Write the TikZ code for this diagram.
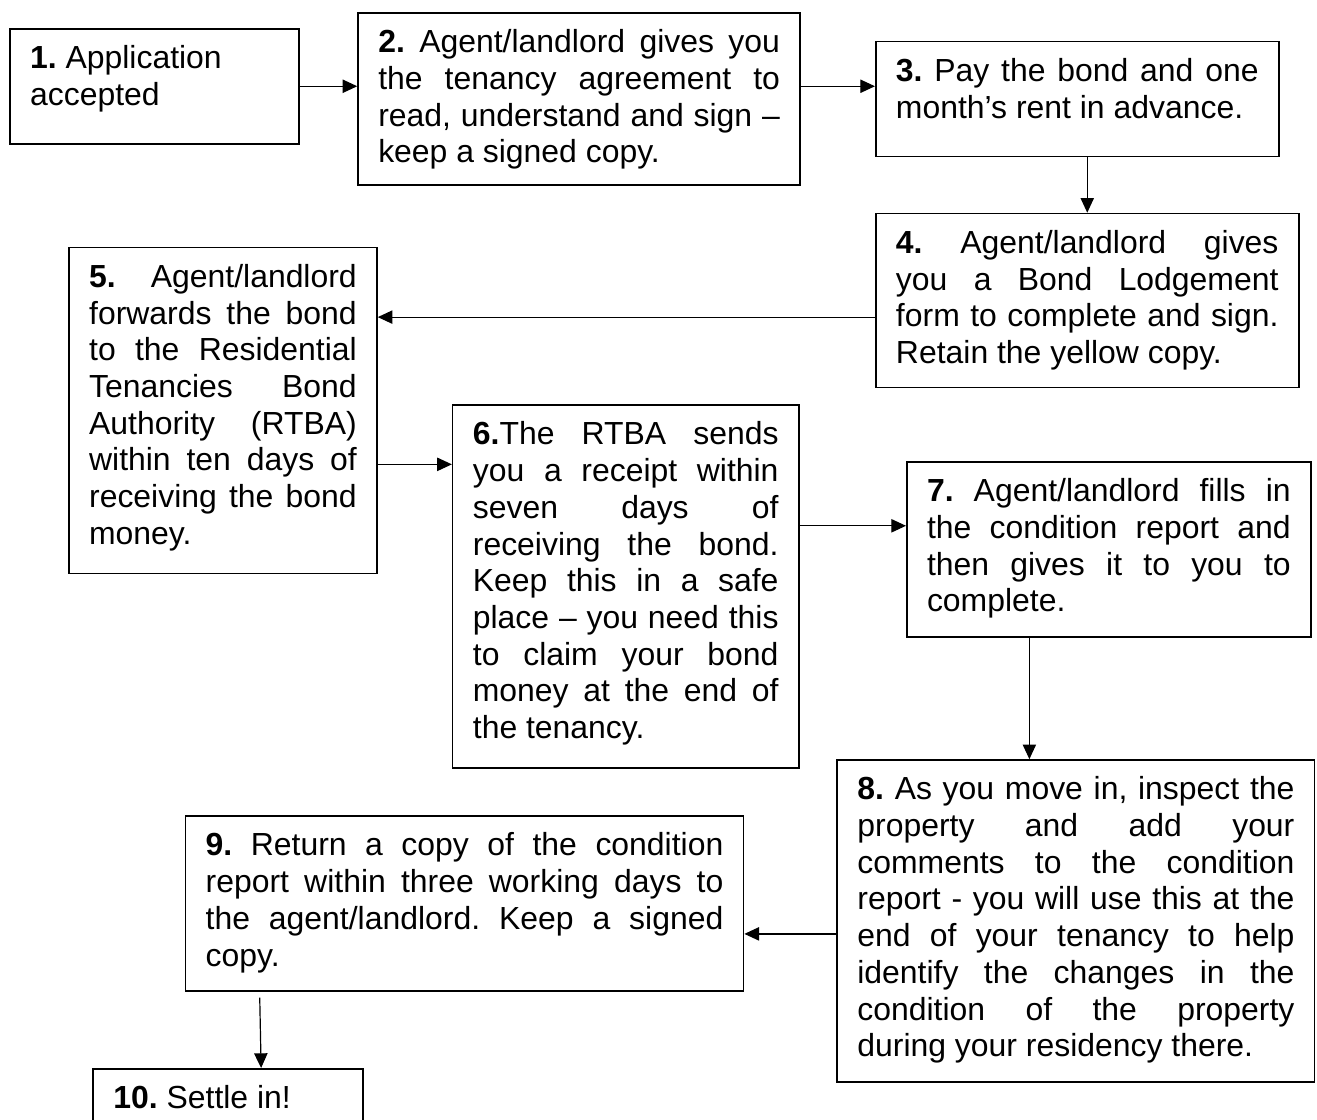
\documentclass[tikz,border=0pt]{standalone}
\usepackage{fontspec}
\setmainfont{Liberation Sans}
\usetikzlibrary{calc}
\usetikzlibrary{arrows.meta}
\tikzstyle{stepbox} = [rectangle, draw=black, line width=0.6pt, anchor=north west,
align=justify, inner xsep=7.6pt, inner ysep=5pt, text height=10pt,
font=\fontsize{12pt}{13.8pt}\selectfont\frenchspacing]
\tikzstyle{arrow} = [line width=0.45pt,-{Triangle[length=5.5pt,width=5pt]}]
\tolerance=10000
\hbadness=10000
\begin{document}
\begin{tikzpicture}
\useasboundingbox (0,0) rectangle (17.40,-14.79);
% steps
\node (b1) at (0.12,-0.37) [stepbox, text width=93.4pt, text depth=23.2pt] {\textbf{1.} Application\\accepted};
\node (b2) at (4.72,-0.16) [stepbox, text width=151pt, text depth=44.7pt] {\textbf{2.} Agent/landlord gives you\linebreak the tenancy agreement to\linebreak read, understand and sign –\linebreak keep a signed copy.};
\node (b3) at (11.56,-0.54) [stepbox, text width=136.3pt, text depth=23.2pt] {\textbf{3.} Pay the bond and one\linebreak month’s rent in advance.};
\node (b4) at (11.56,-2.81) [stepbox, text width=143.8pt, text depth=45.4pt] {\textbf{4.} Agent/landlord gives\linebreak you a Bond Lodgement\linebreak form to complete and sign.\linebreak Retain the yellow copy.};
\node (b5) at (0.90,-3.26) [stepbox, text width=100.6pt, text depth=102.6pt] {\textbf{5.} Agent/landlord\linebreak forwards the bond\linebreak to the Residential\linebreak Tenancies Bond\linebreak Authority (RTBA)\linebreak within ten days of\linebreak receiving the bond\linebreak money.};
\node (b6) at (5.97,-5.34) [stepbox, text width=114.9pt, text depth=116.5pt] {\textbf{6.}The RTBA sends\linebreak you a receipt within\linebreak seven days of\linebreak receiving the bond.\linebreak Keep this in a safe\linebreak place – you need this\linebreak to claim your bond\linebreak money at the end of\linebreak the tenancy.};
\node (b7) at (11.97,-6.09) [stepbox, text width=136.7pt, text depth=45.8pt] {\textbf{7.} Agent/landlord fills in\linebreak the condition report and\linebreak then gives it to you to\linebreak complete.};
\node (b8) at (11.05,-10.03) [stepbox, text width=164.3pt, text depth=101.1pt] {\textbf{8.} As you move in, inspect the\linebreak property and add your\linebreak comments to the condition\linebreak report - you will use this at the\linebreak end of your tenancy to help\linebreak identify the changes in the\linebreak condition of the property\linebreak during your residency there.};
\node (b9) at (2.44,-10.77) [stepbox, text width=194.6pt, text depth=45.8pt] {\textbf{9.} Return a copy of the condition\linebreak report within three working days to\linebreak the agent/landlord. Keep a signed\linebreak copy.};
\node (b10) at (1.22,-14.11) [stepbox, text width=86.3pt, text depth=22pt] {\textbf{10.} Settle in!};
% arrows
\coordinate (a45) at ($(b4.west)+(0,-0.22)$);
\coordinate (a56) at ($(b5.east)+(0,-0.71)$);
\coordinate (a67) at ($(b7.west)+(0,0.31)$);
\coordinate (a78) at ($(b7.south west)+(1.63,0)$);
\coordinate (a89) at ($(b8.west)+(0,-0.17)$);
\coordinate (a910) at ($(b9.south west)+(0.99,0)$);
\draw[arrow] (b1.east) -- (b1.east -| b2.west);
\draw[arrow] (b2.east |- b1.east) -- (b3.west |- b1.east);
\draw[arrow] (b3.south -| b4.north) -- (b4.north);
\draw[arrow] (a45) -- (a45 -| b5.east);
\draw[arrow] (a56) -- (a56 -| b6.west);
\draw[arrow] (a67 -| b6.east) -- (a67);
\draw[arrow] (a78) -- (a78 |- b8.north);
\draw[arrow] (a89) -- (a89 -| b9.east);
\draw[arrow, shorten <=2.2pt] (a910) -- ($(b10.north west)+(2.23,0)$);
\end{tikzpicture}
\end{document}
